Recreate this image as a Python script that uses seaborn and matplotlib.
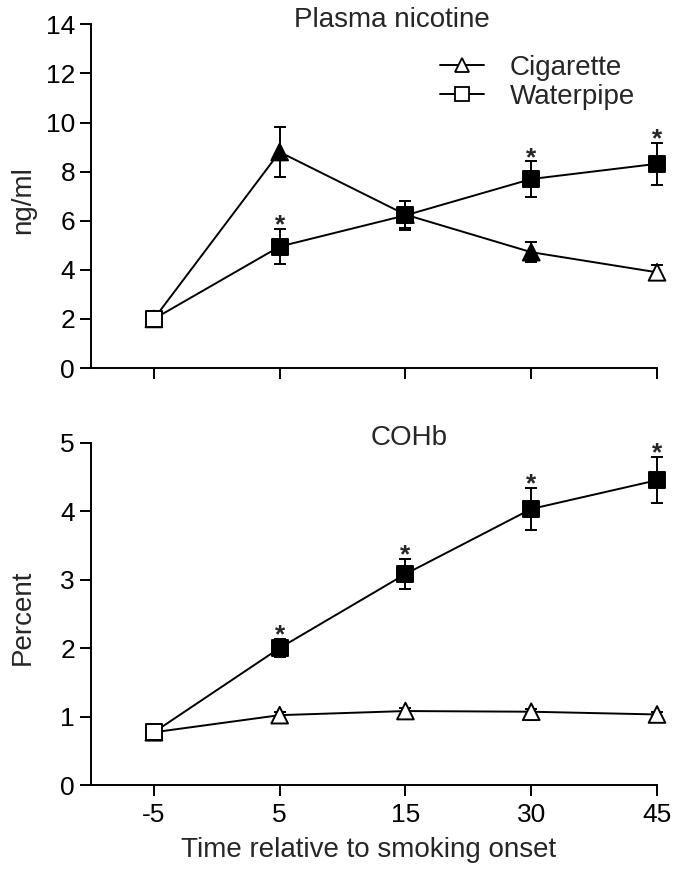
import numpy as np
import pandas as pd
import matplotlib
matplotlib.use("Agg")
import matplotlib.pyplot as plt
from matplotlib.lines import Line2D
import seaborn as sns

# ---------------- data ----------------
times = ["-5", "5", "15", "30", "45"]

# Plasma nicotine (ng/ml)
nic_cig = [2.0, 8.8, 6.25, 4.72, 3.9]
nic_cig_err = [0.0, 1.02, 0.55, 0.4, 0.3]
nic_cig_fill = ["open", "filled", "filled", "filled", "open"]
nic_wp = [2.0, 4.95, 6.22, 7.7, 8.32]
nic_wp_err = [0.0, 0.73, 0.6, 0.72, 0.86]
nic_wp_fill = ["open", "filled", "filled", "filled", "filled"]
nic_wp_sig = [False, True, False, True, True]

# COHb (percent)
cohb_cig = [0.77, 1.02, 1.08, 1.07, 1.03]
cohb_cig_err = [0.0, 0.04, 0.04, 0.04, 0.04]
cohb_cig_fill = ["open", "open", "open", "open", "open"]
cohb_wp = [0.77, 2.0, 3.08, 4.03, 4.45]
cohb_wp_err = [0.03, 0.13, 0.22, 0.31, 0.34]
cohb_wp_fill = ["open", "filled", "filled", "filled", "filled"]
cohb_wp_sig = [False, True, True, True, True]

series_names = ["Cigarette", "Waterpipe"]
panel_titles = ["Plasma nicotine", "COHb"]
y_labels = ["ng/ml", "Percent"]
x_label = "Time relative to smoking onset"

# ---------------- style ----------------
sns.set_style("ticks")
plt.rcParams["font.family"] = ["Liberation Sans", "DejaVu Sans"]
plt.rcParams["axes.linewidth"] = 1.4
plt.rcParams["xtick.major.width"] = 1.4
plt.rcParams["ytick.major.width"] = 1.4

TICK_FS = 19
LABEL_FS = 20
LW = 1.4
palette = {"filled": "black", "open": "white"}

fig = plt.figure(figsize=(6.8, 8.74), dpi=100)
ax_top = fig.add_axes([0.1338, 0.5789, 0.8324, 0.3932])
ax_bot = fig.add_axes([0.1338, 0.1018, 0.8324, 0.3919])


def draw_series(ax, vals, errs, fills, marker, msize):
    df = pd.DataFrame({"time": times, "value": vals, "fill": fills})
    sns.lineplot(data=df, x="time", y="value", ax=ax, color="black",
                 linewidth=LW, sort=False, errorbar=None, zorder=2)
    ax.errorbar(times, vals, yerr=errs, fmt="none", ecolor="black",
                elinewidth=LW, capsize=4.5, capthick=LW, zorder=3,
                clip_on=False)
    sns.scatterplot(data=df, x="time", y="value", hue="fill",
                    palette=palette, marker=marker, s=msize ** 2,
                    edgecolor="black", linewidth=1.4, ax=ax, legend=False,
                    zorder=4, clip_on=False)


def stars(ax, vals, errs, sig):
    for t, v, e, s in zip(times, vals, errs, sig):
        if s:
            ax.annotate("*", (t, v + e), xytext=(0, -2.5),
                        textcoords="offset points", ha="center",
                        va="baseline", fontsize=19, fontweight="bold")


# top panel
draw_series(ax_top, nic_cig, nic_cig_err, nic_cig_fill, "^", 12)
draw_series(ax_top, nic_wp, nic_wp_err, nic_wp_fill, "s", 11.5)
stars(ax_top, nic_wp, nic_wp_err, nic_wp_sig)

# bottom panel
draw_series(ax_bot, cohb_cig, cohb_cig_err, cohb_cig_fill, "^", 12)
draw_series(ax_bot, cohb_wp, cohb_wp_err, cohb_wp_fill, "s", 11.5)
stars(ax_bot, cohb_wp, cohb_wp_err, cohb_wp_sig)

for ax, ymax, step, title, tx, ylab in [
        (ax_top, 14, 2, panel_titles[0], 0.532, y_labels[0]),
        (ax_bot, 5, 1, panel_titles[1], 0.562, y_labels[1])]:
    ax.set_xlim(-0.5, 4)
    ax.set_ylim(0, ymax)
    ax.set_yticks(np.arange(0, ymax + 0.01, step))
    sns.despine(ax=ax)
    ax.tick_params(axis="both", length=8, width=LW, labelsize=TICK_FS,
                   color="black", labelcolor="black")
    ax.tick_params(axis="y", pad=3.5)
    ax.tick_params(axis="x", pad=5)
    ax.set_ylabel(ylab, fontsize=LABEL_FS)
    ax.yaxis.set_label_coords(-0.097, 0.49)
    ax.text(tx, 1.013, title, transform=ax.transAxes, ha="center",
            va="center", fontsize=LABEL_FS)
    for sp in ax.spines.values():
        sp.set_color("black")

ax_top.set_xlabel("")
ax_top.tick_params(axis="x", labelbottom=False)
ax_bot.set_xlabel(x_label, fontsize=LABEL_FS)
ax_bot.xaxis.set_label_coords(0.49, -0.152)

handles = [
    Line2D([], [], color="black", lw=LW, marker="^", markersize=10,
           markerfacecolor="white", markeredgecolor="black", markeredgewidth=1.3),
    Line2D([], [], color="black", lw=LW, marker="s", markersize=9.5,
           markerfacecolor="white", markeredgecolor="black", markeredgewidth=1.3),
]
fig.legend(handles, series_names, loc="upper left",
           bbox_to_anchor=(0.647, 0.937), frameon=False, fontsize=LABEL_FS,
           handlelength=1.6, handletextpad=0.9, labelspacing=0.1,
           borderpad=0, borderaxespad=0)

fig.savefig("out.png", dpi=100)
